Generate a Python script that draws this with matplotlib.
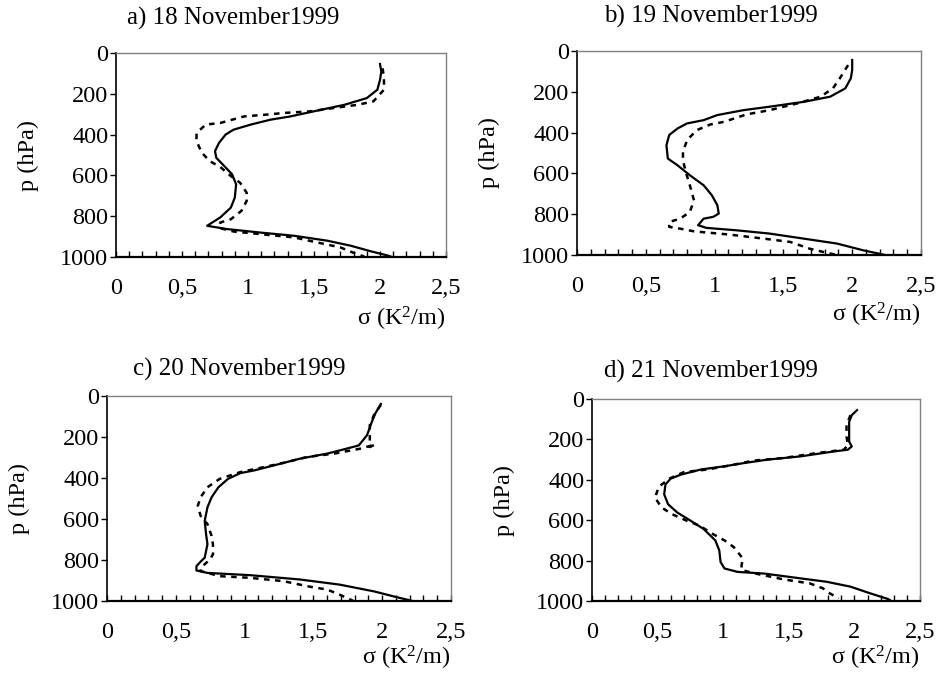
import matplotlib
matplotlib.use('Agg')
import matplotlib.pyplot as plt
from matplotlib.ticker import MultipleLocator, FuncFormatter

plt.rcParams['font.family'] = ['Liberation Serif', 'DejaVu Serif']
plt.rcParams['mathtext.fontset'] = 'custom'
plt.rcParams['mathtext.rm'] = 'Liberation Serif'
plt.rcParams['mathtext.it'] = 'Liberation Serif:italic'

titles = ["a) 18 November1999", "b) 19 November1999",
          "c) 20 November1999", "d) 21 November1999"]

# panel a
a_solid_p = [54, 91, 132, 180, 221, 254, 283, 311, 327, 351, 376, 400, 441, 481, 514, 554,
             595, 644, 709, 758, 806, 847, 863, 880, 896, 920, 945, 972, 993, 1000]
a_solid_s = [2.0, 2.01, 2.0, 1.98, 1.90, 1.73, 1.52, 1.32, 1.17, 1.02, 0.89, 0.83, 0.78, 0.75, 0.76, 0.82,
             0.88, 0.91, 0.90, 0.87, 0.79, 0.69, 0.84, 1.09, 1.35, 1.60, 1.78, 1.93, 2.06, 2.09]
a_dash_p = [75, 124, 180, 237, 254, 267, 286, 294, 302, 311, 343, 351, 392, 432, 489, 530, 559,
            603, 636, 685, 725, 774, 815, 831, 852, 859, 875, 891, 904, 928, 953, 977, 998]
a_dash_s = [2.02, 2.03, 2.03, 1.95, 1.83, 1.68, 1.47, 1.27, 1.14, 0.97, 0.79, 0.68, 0.61, 0.61, 0.65, 0.71, 0.79,
            0.87, 0.94, 0.99, 0.99, 0.95, 0.87, 0.79, 0.78, 0.79, 0.89, 1.14, 1.35, 1.52, 1.70, 1.79, 1.88]

# panel b
b_solid_p = [44, 93, 134, 183, 224, 249, 273, 290, 314, 339, 355, 380, 412, 462, 527, 560, 609,
             658, 707, 756, 797, 813, 822, 854, 867, 879, 895, 920, 944, 977, 1000]
b_solid_s = [2.0, 2.0, 1.99, 1.95, 1.84, 1.65, 1.40, 1.21, 1.02, 0.92, 0.80, 0.73, 0.67, 0.65, 0.66, 0.73, 0.82,
             0.92, 0.98, 1.02, 1.03, 0.99, 0.92, 0.88, 0.94, 1.16, 1.40, 1.65, 1.89, 2.08, 2.24]
b_dash_p = [69, 134, 183, 224, 257, 290, 311, 347, 360, 388, 437, 494, 535, 592, 658, 732, 789,
            822, 838, 862, 871, 884, 900, 920, 936, 969, 990, 1000]
b_dash_s = [1.97, 1.91, 1.86, 1.77, 1.60, 1.40, 1.23, 1.07, 0.97, 0.87, 0.80, 0.77, 0.77, 0.79, 0.82, 0.85, 0.82,
            0.75, 0.67, 0.67, 0.75, 0.85, 1.11, 1.36, 1.55, 1.69, 1.82, 1.89]

# panel c
c_solid_p = [39, 85, 134, 191, 241, 257, 281, 306, 339, 363, 376, 404, 445, 494, 543, 609, 674,
             723, 789, 808, 830, 851, 863, 874, 895, 920, 953, 977, 1000]
c_solid_s = [1.99, 1.95, 1.92, 1.89, 1.83, 1.74, 1.60, 1.40, 1.21, 1.07, 0.97, 0.88, 0.81, 0.76, 0.73, 0.71, 0.72,
             0.73, 0.71, 0.68, 0.65, 0.65, 0.73, 1.04, 1.40, 1.69, 1.94, 2.08, 2.22]
c_dash_p = [44, 93, 142, 200, 249, 236, 257, 281, 298, 322, 344, 371, 404, 445, 494, 535, 584, 625,
            682, 723, 772, 797, 838, 854, 879, 887, 903, 931, 944, 969, 993, 1000]
c_dash_s = [1.99, 1.94, 1.91, 1.91, 1.91, 1.95, 1.84, 1.65, 1.45, 1.31, 1.16, 0.97, 0.82, 0.73, 0.68, 0.66, 0.68, 0.73,
            0.76, 0.77, 0.77, 0.75, 0.68, 0.68, 0.82, 1.04, 1.28, 1.48, 1.60, 1.69, 1.77, 1.79]

# panel d
d_solid_p = [55, 80, 113, 162, 211, 235, 251, 260, 284, 300, 317, 333, 349, 374, 394, 423, 472,
             521, 562, 602, 643, 700, 749, 807, 839, 856, 864, 888, 905, 929, 962, 991, 1000]
d_solid_s = [2.02, 1.98, 1.96, 1.96, 1.96, 1.98, 1.95, 1.84, 1.59, 1.34, 1.16, 1.01, 0.83, 0.68, 0.60, 0.56, 0.55,
             0.58, 0.65, 0.75, 0.85, 0.94, 0.97, 0.98, 1.01, 1.11, 1.31, 1.59, 1.79, 1.97, 2.12, 2.26, 2.28]
d_dash_p = [80, 129, 186, 227, 251, 268, 292, 305, 328, 349, 362, 394, 434, 488, 537, 570, 602,
            627, 668, 700, 733, 790, 823, 847, 866, 893, 913, 937, 958, 986]
d_dash_s = [1.97, 1.94, 1.94, 1.95, 1.92, 1.71, 1.46, 1.23, 1.06, 0.88, 0.70, 0.59, 0.51, 0.48, 0.53, 0.61, 0.72,
            0.82, 0.92, 1.01, 1.08, 1.15, 1.14, 1.14, 1.26, 1.46, 1.66, 1.76, 1.80, 1.88]

x_ticks = [0, 0.5, 1, 1.5, 2, 2.5]
p_ticks = [0, 200, 400, 600, 800, 1000]

W, H = 942, 675
# (left, top, right, bottom) in pixels, title centre in pixels, xlabel offset below axis
boxes = [(116, 53, 446, 257), (577, 51, 921, 255), (107, 396, 451, 601), (592, 399, 920, 601)]
title_xy = [(233, 18), (711, 16), (239, 369), (711, 371)]
xlab_off = [62, 60, 57, 57]
series = [(a_solid_p, a_solid_s, a_dash_p, a_dash_s),
          (b_solid_p, b_solid_s, b_dash_p, b_dash_s),
          (c_solid_p, c_solid_s, c_dash_p, c_dash_s),
          (d_solid_p, d_solid_s, d_dash_p, d_dash_s)]

fig = plt.figure(figsize=(W / 100, H / 100), dpi=100)
fs = 17.5


def comma(v, pos):
    return f"{v:g}".replace('.', ',')


for box, txy, off, title, (sp, ss, dp, ds) in zip(boxes, title_xy, xlab_off, titles, series):
    l, t, r, b = box
    ax = fig.add_axes([l / W, 1 - b / H, (r - l) / W, (b - t) / H])
    ax.plot(ss, sp, color='black', lw=1.6, solid_joinstyle='round')
    ax.plot(ds, dp, color='black', lw=1.8, linestyle=(0, (2.2, 2.2)))
    ax.set_xlim(0, 2.5)
    ax.set_ylim(1000, 0)
    ax.set_xticks(x_ticks)
    ax.xaxis.set_major_formatter(FuncFormatter(comma))
    ax.xaxis.set_minor_locator(MultipleLocator(0.1))
    ax.set_yticks(p_ticks)
    ax.tick_params(axis='x', which='both', direction='in', length=4, width=1,
                   pad=15, labelsize=fs, top=False)
    ax.tick_params(axis='y', which='both', direction='out', length=4, width=1,
                   pad=1.5, labelsize=fs, right=False)
    for side in ['top', 'right']:
        ax.spines[side].set_color('#808080')
        ax.spines[side].set_linewidth(1)
    ax.spines['left'].set_linewidth(1.2)
    ax.spines['bottom'].set_linewidth(1.6)
    ax.text(1.0, -off / (b - t), r"σ (K$^2$/m)", transform=ax.transAxes,
            ha='right', va='center', fontsize=fs)
    ax.text(-88 / (r - l), 0.5, "p (hPa)", transform=ax.transAxes, rotation=90,
            ha='center', va='center', fontsize=fs)
    fig.text(txy[0] / W, 1 - txy[1] / H, title, ha='center', va='center', fontsize=18)

fig.savefig('out.png', dpi=100)
